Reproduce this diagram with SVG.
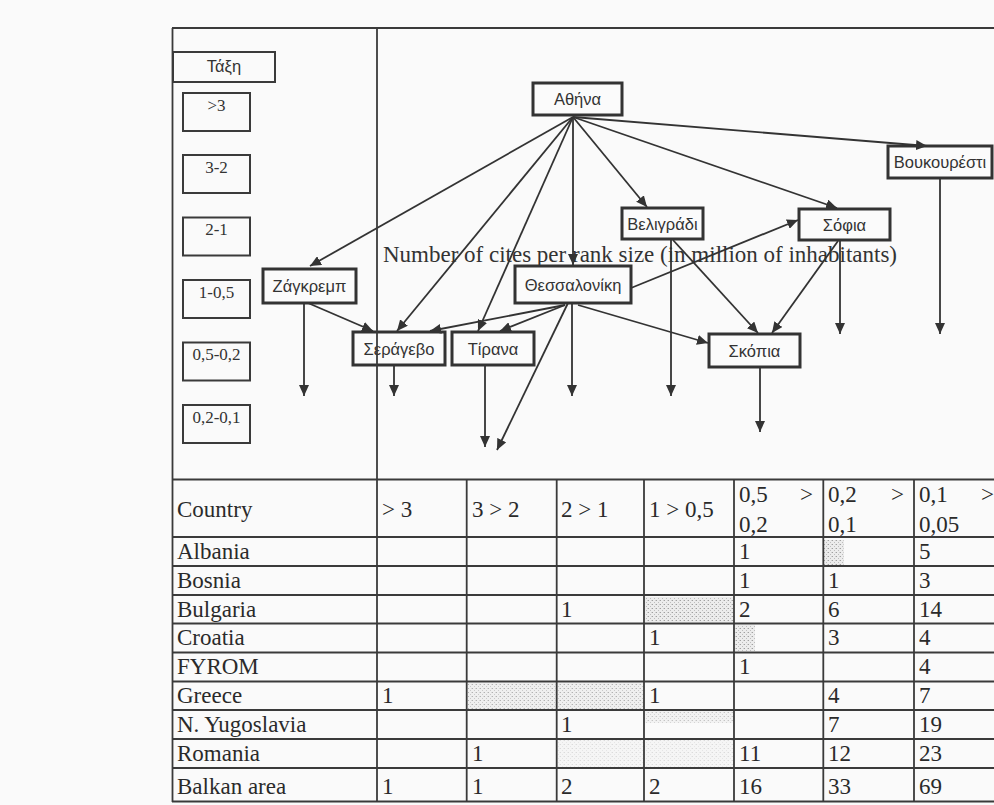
<svg xmlns="http://www.w3.org/2000/svg" width="994" height="805" viewBox="0 0 994 805">
<style>
.bg{fill:#fafafa}
.frame{stroke:#3a3a3a;stroke-width:1.8;fill:none}
.node rect{fill:#fbfbfb;stroke:#333;stroke-width:3}
.node text{font-family:"Liberation Sans",Arial,sans-serif;font-size:16.5px;fill:#333;text-anchor:middle}
.leg rect{fill:none;stroke:#3a3a3a;stroke-width:2}
.leg text{font-family:"Liberation Serif","Times New Roman",serif;font-size:17px;fill:#333;text-anchor:middle}
.conn path{stroke:#333;stroke-width:1.8;fill:none;marker-end:url(#ah)}
.title{font-family:"Liberation Serif","Times New Roman",serif;font-size:23px;fill:#333}
.tbl line{stroke:#3a3a3a;stroke-width:1.8}
.tbl text{font-family:"Liberation Serif","Times New Roman",serif;font-size:23px;fill:#2a2a2a}
.tbl text.r{text-anchor:end}
</style>
<defs>
<marker id="ah" markerWidth="11" markerHeight="10" refX="11" refY="5" orient="auto" markerUnits="userSpaceOnUse"><path d="M0,0 L11,5 L0,10 z" fill="#333"/></marker>
<pattern id="stip" width="4" height="4" patternUnits="userSpaceOnUse"><rect width="4" height="4" fill="#ececec"/><rect x="0" y="0" width="1" height="1" fill="#a0a0a0"/><rect x="2" y="2" width="1" height="1" fill="#bdbdbd"/><rect x="3" y="0" width="1" height="1" fill="#d0d0d0"/></pattern>
</defs>
<rect class="bg" x="0" y="0" width="994" height="805"/>

<g id="shading">
<rect x="824" y="540" width="20" height="25" fill="url(#stip)"/>
<rect x="645" y="597" width="88" height="25" fill="url(#stip)"/>
<rect x="735" y="625" width="20" height="26" fill="url(#stip)"/>
<rect x="468" y="683" width="175" height="26" fill="url(#stip)" opacity="0.8"/>
<rect x="645" y="711" width="88" height="12" fill="url(#stip)" opacity="0.6"/>
<rect x="558" y="740" width="175" height="27" fill="url(#stip)" opacity="0.35"/>
</g>

<g id="table" class="tbl">
<line x1="172" y1="479.5" x2="994" y2="479.5"/>
<line x1="172" y1="537" x2="994" y2="537"/>
<line x1="172" y1="566" x2="994" y2="566"/>
<line x1="172" y1="595" x2="994" y2="595"/>
<line x1="172" y1="623.5" x2="994" y2="623.5"/>
<line x1="172" y1="652.5" x2="994" y2="652.5"/>
<line x1="172" y1="681.5" x2="994" y2="681.5"/>
<line x1="172" y1="710" x2="994" y2="710"/>
<line x1="172" y1="739" x2="994" y2="739"/>
<line x1="172" y1="768" x2="994" y2="768"/>
<line x1="172" y1="801.5" x2="994" y2="801.5"/>
<line x1="466.7" y1="479" x2="466.7" y2="802"/>
<line x1="556.7" y1="479" x2="556.7" y2="802"/>
<line x1="644" y1="479" x2="644" y2="802"/>
<line x1="734" y1="479" x2="734" y2="802"/>
<line x1="823.3" y1="479" x2="823.3" y2="802"/>
<line x1="914" y1="479" x2="914" y2="802"/>
<text x="177" y="517">Country</text>
<text x="382" y="517">&gt; 3</text>
<text x="472" y="517">3 &gt; 2</text>
<text x="561" y="517">2 &gt; 1</text>
<text x="649" y="517">1 &gt; 0,5</text>
<text x="739" y="502">0,5</text><text class="r" x="813" y="502">&gt;</text><text x="739" y="532">0,2</text>
<text x="828" y="502">0,2</text><text class="r" x="904" y="502">&gt;</text><text x="828" y="532">0,1</text>
<text x="919" y="502">0,1</text><text class="r" x="994" y="502">&gt;</text><text x="919" y="532">0,05</text>
<text x="177" y="559">Albania</text><text x="739" y="559">1</text><text x="919" y="559">5</text>
<text x="177" y="588">Bosnia</text><text x="739" y="588">1</text><text x="828" y="588">1</text><text x="919" y="588">3</text>
<text x="177" y="617">Bulgaria</text><text x="561" y="617">1</text><text x="739" y="617">2</text><text x="828" y="617">6</text><text x="919" y="617">14</text>
<text x="177" y="645">Croatia</text><text x="649" y="645">1</text><text x="828" y="645">3</text><text x="919" y="645">4</text>
<text x="177" y="674">FYROM</text><text x="739" y="674">1</text><text x="919" y="674">4</text>
<text x="177" y="703">Greece</text><text x="382" y="703">1</text><text x="649" y="703">1</text><text x="828" y="703">4</text><text x="919" y="703">7</text>
<text x="177" y="732">N. Yugoslavia</text><text x="561" y="732">1</text><text x="828" y="732">7</text><text x="919" y="732">19</text>
<text x="177" y="761">Romania</text><text x="472" y="761">1</text><text x="739" y="761">11</text><text x="828" y="761">12</text><text x="919" y="761">23</text>
<text x="177" y="794">Balkan area</text><text x="382" y="794">1</text><text x="472" y="794">1</text><text x="561" y="794">2</text><text x="649" y="794">2</text><text x="739" y="794">16</text><text x="828" y="794">33</text><text x="919" y="794">69</text>
</g>

<g id="legend" class="leg">
<g id="leg-taxi"><rect x="173" y="52" width="102" height="30"/><text x="224" y="72" style="font-family:'Liberation Sans',Arial,sans-serif;font-size:16.5px">Τάξη</text></g>
<g id="leg-1"><rect x="183" y="93" width="67" height="38"/><text x="216.5" y="110.5">&gt;3</text></g>
<g id="leg-2"><rect x="183" y="155" width="67" height="38"/><text x="216.5" y="172.5">3-2</text></g>
<g id="leg-3"><rect x="183" y="217.5" width="67" height="38"/><text x="216.5" y="235">2-1</text></g>
<g id="leg-4"><rect x="183" y="280" width="67" height="38"/><text x="216.5" y="297.5">1-0,5</text></g>
<g id="leg-5"><rect x="183" y="342.5" width="67" height="38"/><text x="216.5" y="360">0,5-0,2</text></g>
<g id="leg-6"><rect x="183" y="405" width="67" height="38"/><text x="216.5" y="422.5">0,2-0,1</text></g>
</g>

<g id="nodes">
<g id="athina" class="node"><rect x="533" y="83" width="89" height="32"/><text x="577.5" y="105">Αθήνα</text></g>
<g id="veligradi" class="node"><rect x="622" y="208" width="81" height="31"/><text x="662.5" y="229.5">Βελιγράδι</text></g>
<g id="voukouresti" class="node"><rect x="888" y="146" width="104" height="32"/><text x="940" y="168">Βουκουρέστι</text></g>
<g id="sofia" class="node"><rect x="799" y="209" width="91" height="31"/><text x="844.5" y="230.5">Σόφια</text></g>
<g id="zagreb" class="node"><rect x="263" y="269" width="93" height="34"/><text x="309.5" y="292">Ζάγκρεμπ</text></g>
<g id="thessaloniki" class="node"><rect x="515" y="266" width="116" height="37"/><text x="573" y="291">Θεσσαλονίκη</text></g>
<g id="sarajevo" class="node"><rect x="353" y="332" width="92" height="33"/><text x="399" y="354.5">Σεράγεβο</text></g>
<g id="tirana" class="node"><rect x="452" y="332" width="82" height="33"/><text x="493" y="354.5">Τίρανα</text></g>
<g id="skopje" class="node"><rect x="709" y="334" width="91" height="33"/><text x="754.5" y="356.5">Σκόπια</text></g>
</g>

<text class="title" x="383" y="262" textLength="514" lengthAdjust="spacingAndGlyphs">Number of cites per rank size (in million of inhabitants)</text>

<g id="connectors" class="conn">
<path d="M573,117 L310,266"/>
<path d="M573,117 L397,331"/>
<path d="M573,117 L478,331"/>
<path d="M573,117 L573,265"/>
<path d="M573,117 L647,207"/>
<path d="M573,117 L837,208"/>
<path d="M573,117 L927,146"/>
<path d="M308,303 L373,331"/>
<path d="M304,304 L304,396"/>
<path d="M394,366 L394,396"/>
<path d="M485,366 L485,447"/>
<path d="M565,305 L430,331"/>
<path d="M565,305 L500,331"/>
<path d="M568,303 L497,450"/>
<path d="M572,304 L572,396"/>
<path d="M578,305 L708,343"/>
<path d="M631,288 L798,220"/>
<path d="M673,240 L758,333"/>
<path d="M671,240 L671,396"/>
<path d="M838,241 L772,333"/>
<path d="M840,241 L840,334"/>
<path d="M940,179 L940,334"/>
<path d="M760,368 L760,432"/>
</g>

<g id="frame" class="frame">
<line x1="172" y1="28" x2="994" y2="28"/>
<line x1="172.5" y1="28" x2="172.5" y2="802"/>
<line x1="377" y1="28" x2="377" y2="802"/>
</g>
</svg>
